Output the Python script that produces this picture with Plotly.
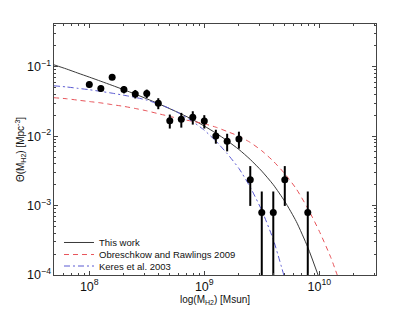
import plotly.graph_objects as go

# ---- observed points (mass in Msun, density in Mpc^-3) ----
obs_mass = [1.00e8, 1.26e8, 1.58e8, 2.00e8, 2.51e8, 3.16e8, 3.98e8, 5.01e8, 6.31e8, 7.94e8,
             1.00e9, 1.26e9, 1.58e9, 2.00e9, 2.51e9, 3.16e9, 3.98e9, 5.01e9, 7.94e9]
obs_phi = [0.0556, 0.0486, 0.0707, 0.0471, 0.0407, 0.0412, 0.0299, 0.0167, 0.0175, 0.0188,
           0.0165, 0.0101, 0.00845, 0.00912, 0.00235, 0.000798, 0.000798, 0.00235, 0.000798]
obs_err = [0.0056, 0.0049, 0.0042, 0.0057, 0.0057, 0.0058, 0.0054, 0.0038, 0.0042, 0.0041,
           0.0036, 0.0023, 0.0024, 0.0025, 0.00136, 0.000798, 0.000798, 0.00136, 0.000798]

# ---- curves ----
grid_mass = [4.90e7, 6.31e7, 7.94e7, 1.00e8, 1.26e8, 1.58e8, 2.00e8, 2.51e8, 3.16e8, 3.98e8,
             5.01e8, 6.31e8, 7.94e8, 1.00e9, 1.26e9, 1.58e9, 2.00e9, 2.51e9, 3.16e9, 3.98e9,
             5.01e9, 6.31e9, 7.94e9, 1.00e10, 1.26e10, 1.58e10]

this_work = [0.1072, 0.0933, 0.0813, 0.0711, 0.0619, 0.0540, 0.0467, 0.0404, 0.0346, 0.0295,
             0.0249, 0.0209, 0.0173, 0.0140, 0.0111, 0.00861, 0.00644, 0.00462, 0.00314, 0.00200,
             0.00115, 0.000589, 0.000251, 0.0000891]
obreschkow = [0.0359, 0.0347, 0.0331, 0.0316, 0.0302, 0.0285, 0.0269, 0.0251, 0.0232, 0.0211,
              0.0193, 0.0176, 0.0164, 0.0151, 0.0135, 0.0117, 0.0100, 0.00813, 0.00617, 0.00437,
              0.00288, 0.00174, 0.000912, 0.000427, 0.000178, 0.0000631]
keres = [0.0533, 0.0513, 0.0490, 0.0468, 0.0442, 0.0417, 0.0389, 0.0363, 0.0331, 0.0292,
         0.0251, 0.0207, 0.0162, 0.0122, 0.00851, 0.00562, 0.00343, 0.00184, 0.000851, 0.000324,
         0.0000891]

series_names = ["This work", "Obreschkow and Rawlings 2009", "Keres et al. 2003"]

FONT = "Liberation Sans, Arial, Helvetica, sans-serif"

fig = go.Figure()

fig.add_trace(go.Scatter(
    x=grid_mass[:len(this_work)], y=this_work, mode="lines", name=series_names[0],
    line=dict(color="#3a3a3a", width=1, shape="spline", smoothing=0.6),
    legend="legend"))
fig.add_trace(go.Scatter(
    x=grid_mass[:len(obreschkow)], y=obreschkow, mode="lines", name=series_names[1],
    line=dict(color="#e8545a", width=1, dash="5px,4px", shape="spline", smoothing=0.6),
    legend="legend2"))
fig.add_trace(go.Scatter(
    x=grid_mass[:len(keres)], y=keres, mode="lines", name=series_names[2],
    line=dict(color="#5a5ad2", width=1, dash="6px,3px,2px,3px", shape="spline", smoothing=0.6),
    legend="legend3"))
fig.add_trace(go.Scatter(
    x=obs_mass, y=obs_phi, mode="markers", showlegend=False,
    marker=dict(color="black", size=7),
    error_y=dict(type="data", array=obs_err, visible=True, color="black", thickness=2, width=0)))

axis_common = dict(
    type="log", showline=True, linecolor="#444", linewidth=1, mirror="ticks",
    ticks="inside", ticklen=4, tickcolor="#444", showgrid=False, zeroline=False,
    dtick=1, exponentformat="power", automargin=False,
    minor=dict(ticks="inside", ticklen=2, tickcolor="#444", dtick="D1", showgrid=False),
    tickfont=dict(family=FONT, size=10, color="#111"),
)

fig.update_xaxes(range=[7.693, 10.493],
                 title=dict(text="log(M<sub>H2</sub>) [Msun]", font=dict(family=FONT, size=10, color="#111"),
                            standoff=1),
                 **axis_common)
fig.update_yaxes(range=[-4, -0.383],
                 title=dict(text="Θ(M<sub>H2</sub>) [Mpc<sup>-3</sup>]", font=dict(family=FONT, size=10, color="#111"),
                            standoff=0),
                 **axis_common)

leg_common = dict(bgcolor="rgba(0,0,0,0)", borderwidth=0, xanchor="left", yanchor="middle",
                  font=dict(family=FONT, size=9.5, color="#111"), itemwidth=30)
fig.update_layout(
    width=415, height=312,
    margin=dict(l=54, r=39, t=24, b=37),
    paper_bgcolor="white", plot_bgcolor="white",
    legend=dict(x=0.0155, y=0.1295, **leg_common),
    legend2=dict(x=0.0155, y=0.0816, **leg_common),
    legend3=dict(x=0.0155, y=0.0358, **leg_common),
)

fig.write_html("out.html", config={"displayModeBar": False},
               post_script="document.body.style.margin='0';")
